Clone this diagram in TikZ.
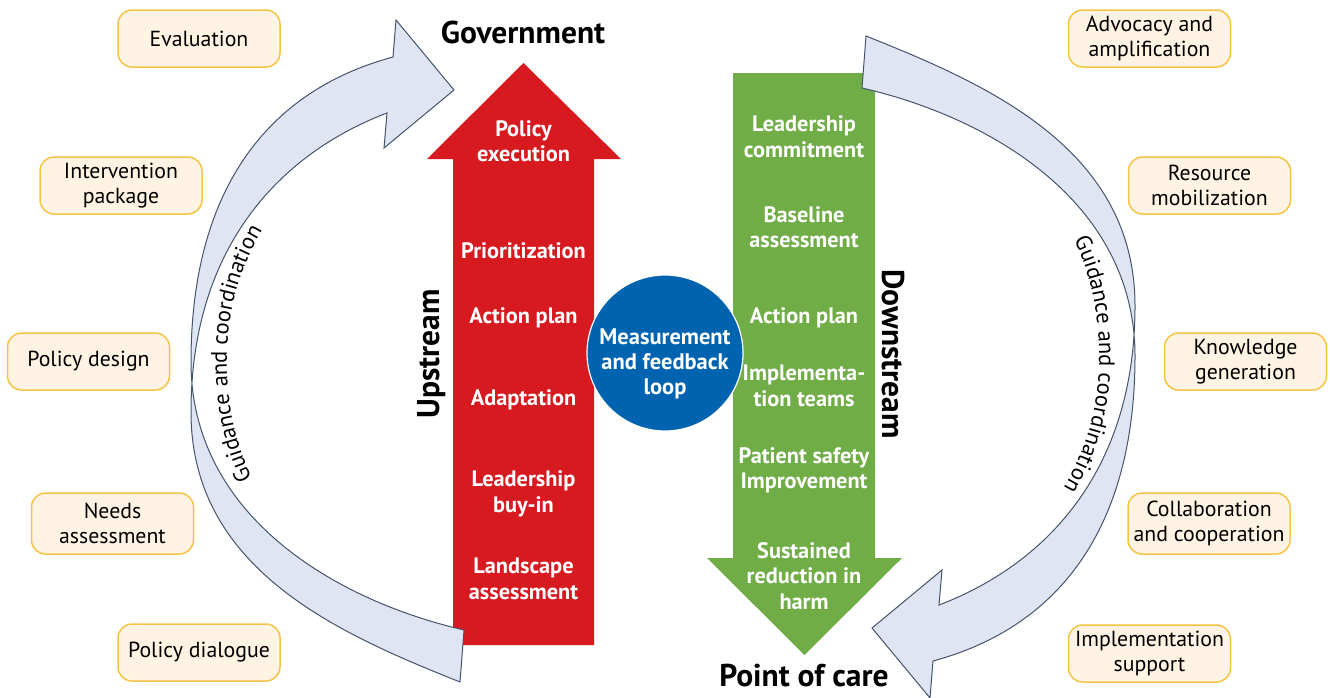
\documentclass[tikz,border=0pt]{standalone}
\usepackage{fontspec}
\setmainfont{PT Sans}
\usetikzlibrary{decorations.text}
\definecolor{redarrow}{HTML}{D71920}
\definecolor{greenarrow}{HTML}{70AD47}
\definecolor{bluecirc}{HTML}{0063AF}
\definecolor{boxfill}{HTML}{FFF4E3}
\definecolor{boxdraw}{HTML}{F6C445}
\definecolor{bandfill}{HTML}{DFE5F3}
\definecolor{banddraw}{HTML}{44546A}
\begin{document}
\begin{tikzpicture}[x=1pt,y=-1pt,
  infobox/.style={draw=boxdraw, fill=boxfill, line width=1.5pt, rounded corners=14pt,
    minimum width=162pt, minimum height=57pt, align=center, inner sep=2pt,
    font=\fontsize{21.8}{25}\selectfont},
  wtxt/.style={text=white, align=center, font=\bfseries\fontsize{22.3}{25.5}\selectfont},
  bigtxt/.style={font=\bfseries\fontsize{31.5}{36}\selectfont},
  sidetxt/.style={font=\bfseries\fontsize{31.5}{36}\selectfont},
  band/.style={fill=bandfill, draw=banddraw, line width=1pt, line join=miter},
  guide/.style={decorate, decoration={text along path, text align=center,
    text={|\fontsize{22.5}{22.5}\selectfont|Guidance and coordination}}},
]
\useasboundingbox (0,0) rectangle (1330,697);

% central arrows
\fill[redarrow] (453,645) -- (453,159) -- (427,159) -- (523.5,63) -- (621,159) -- (594,159) -- (594,645) -- cycle;
\fill[greenarrow] (733,73) -- (733,558) -- (707,558) -- (804.5,655) -- (902,558) -- (875,558) -- (875,73) -- cycle;

% curved arrows
\path[band] (393,57) .. controls (263,92) and (191,195) .. (191,362)
  .. controls (191,515) and (334,600) .. (464,630)
  -- (460,682)
  .. controls (340,634) and (191,570) .. (191,412)
  .. controls (191,250) and (277,155) .. (387,113)
  -- (384,148) -- (454,90) -- (396,20) -- cycle;
\begin{scope}[rotate around={180:(663,359)}]
\path[band] (393,57) .. controls (263,92) and (191,195) .. (191,362)
  .. controls (191,515) and (334,600) .. (464,630)
  -- (460,682)
  .. controls (340,634) and (191,570) .. (191,412)
  .. controls (191,250) and (277,155) .. (387,113)
  -- (384,148) -- (454,90) -- (396,20) -- cycle;
\path[guide] (270,510) .. controls (239,464) and (226,412) .. (227,354)
  .. controls (228,298) and (246,248) .. (283,200);
\end{scope}
\path[guide] (270,510) .. controls (239,464) and (226,412) .. (227,354)
  .. controls (228,298) and (246,248) .. (283,200);

% circle
\node[circle, fill=bluecirc, draw=white, line width=1.2pt, minimum size=156pt, inner sep=0pt] (loop) at (665,353) {};
\node[wtxt, font=\bfseries\fontsize{22.5}{25}\selectfont] (looptxt) at (665,364) {Measurement\\and feedback\\loop};

% red arrow texts
\node[wtxt] (r1) at (523.5,141) {Policy\\execution};
\node[wtxt] (r2) at (523.5,251) {Prioritization};
\node[wtxt] (r3) at (523.5,318) {Action plan};
\node[wtxt] (r4) at (523.5,400) {Adaptation};
\node[wtxt] (r5) at (523.5,494) {Leadership\\buy-in};
\node[wtxt] (r6) at (523.5,579) {Landscape\\assessment};

% green arrow texts
\node[wtxt] (g1) at (804,136.5) {Leadership\\commitment};
\node[wtxt] (g2) at (804,227) {Baseline\\assessment};
\node[wtxt] (g3) at (804,318) {Action plan};
\node[wtxt] (g4) at (804,386) {Implementa-\\tion teams};
\node[wtxt] (g5) at (804,470.5) {Patient safety\\Improvement};
\node[wtxt] (g6) at (804,576) {Sustained\\reduction in\\harm};

% titles
\node[bigtxt] (gov) at (523,32) {Government};
\node[bigtxt] (poc) at (804,676) {Point of care};
\node[sidetxt, rotate=90] (up) at (432,354) {Upstream};
\node[sidetxt, rotate=-90] (down) at (893,354) {Downstream};

% left boxes
\node[infobox] (eval) at (199,38.5) {Evaluation};
\node[infobox] (interv) at (121,185.5) {Intervention\\package};
\node[infobox] (pdesign) at (88.5,361.5) {Policy design};
\node[infobox, minimum height=61pt] (needs) at (112.5,523.5) {Needs\\assessment};
\node[infobox] (pdial) at (199,652.5) {Policy dialogue};

% right boxes
\node[infobox] (advoc) at (1149.5,38.5) {Advocacy and\\amplification};
\node[infobox] (resmob) at (1209.5,185.5) {Resource\\mobilization};
\node[infobox] (knowl) at (1245.5,361.5) {Knowledge\\generation};
\node[infobox, minimum height=61pt] (collab) at (1209,523.5) {Collaboration\\and cooperation};
\node[infobox] (impl) at (1149.5,653.5) {Implementation\\support};
\end{tikzpicture}
\end{document}
